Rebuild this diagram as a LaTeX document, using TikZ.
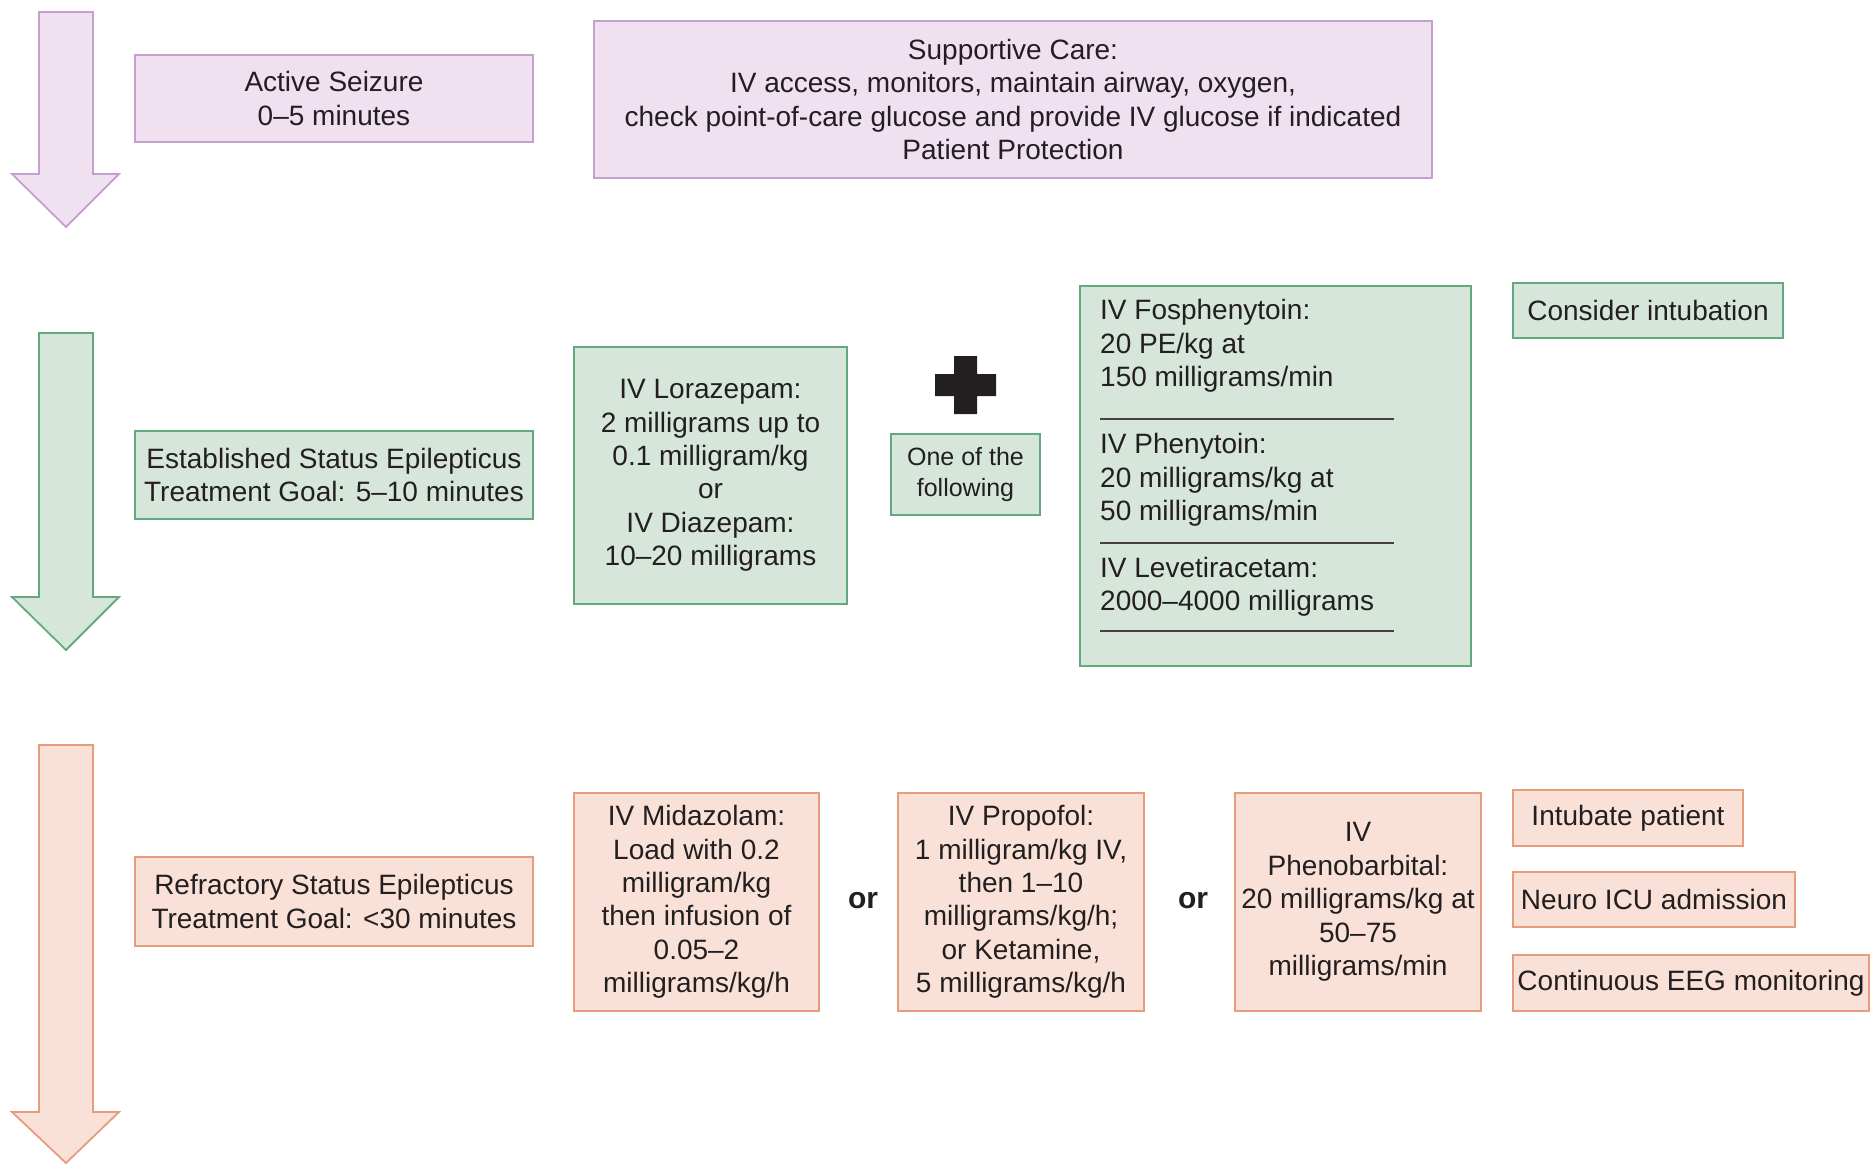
\documentclass[tikz,border=0pt]{standalone}
\usepackage{fontspec}
\setmainfont{Liberation Sans}
\definecolor{pfill}{HTML}{F0E1F0}
\definecolor{pdraw}{HTML}{C6A0CC}
\definecolor{gfill}{HTML}{D6E6DB}
\definecolor{gdraw}{HTML}{62AA7D}
\definecolor{ofill}{HTML}{FAE1D7}
\definecolor{odraw}{HTML}{E59D7E}
\definecolor{txt}{HTML}{231F20}
\tikzset{
  basefont/.style={font=\fontsize{28}{33.4}\selectfont, text=txt},
  box/.style={basefont, draw, line width=1.8pt, inner sep=0pt, align=center},
  pbox/.style={box, fill=pfill, draw=pdraw},
  gbox/.style={box, fill=gfill, draw=gdraw},
  obox/.style={box, fill=ofill, draw=odraw},
  bigarrow/.style={line width=1.8pt},
  sepline/.style={line width=1.4pt, draw=txt!85},
  ortext/.style={font=\fontsize{30}{34}\selectfont\bfseries, text=txt},
  ltext/.style={basefont, align=left, anchor=west, inner sep=0pt}
}
\begin{document}
\begin{tikzpicture}[x=1pt,y=-1pt]
\useasboundingbox (0,0) rectangle (1871,1166);
% big arrows
\filldraw[bigarrow, fill=pfill, draw=pdraw] (39,12) -- (93,12) -- (93,174) -- (119,174) -- (66,227) -- (12,174) -- (39,174) -- cycle;
\filldraw[bigarrow, fill=gfill, draw=gdraw] (39,333) -- (93,333) -- (93,597) -- (119,597) -- (66,650) -- (12,597) -- (39,597) -- cycle;
\filldraw[bigarrow, fill=ofill, draw=odraw] (39,745) -- (93,745) -- (93,1112) -- (119,1112) -- (66,1163) -- (12,1112) -- (39,1112) -- cycle;
% row 1
\node[pbox, minimum width=398pt, minimum height=87pt] (act) at (334,98.5) {Active Seizure\\0--5 minutes};
\node[pbox, minimum width=838pt, minimum height=157pt] (sup) at (1013,99.5) {Supportive Care:\\IV access, monitors, maintain airway, oxygen,\\check point-of-care glucose and provide IV glucose if indicated\\Patient Protection};
% row 2
\node[gbox, minimum width=398pt, minimum height=88pt] (est) at (334,475) {Established Status Epilepticus\\Treatment Goal: 5--10 minutes};
\node[gbox, minimum width=273pt, minimum height=257pt] (lor) at (710.5,475.5) {IV Lorazepam:\\2 milligrams up to\\0.1 milligram/kg\\or\\IV Diazepam:\\10--20 milligrams};
\fill[txt] (954,356) -- (977,356) -- (977,374) -- (996,374) -- (996,396) -- (977,396) -- (977,414) -- (954,414) -- (954,396) -- (935,396) -- (935,374) -- (954,374) -- cycle;
\node[gbox, minimum width=149pt, minimum height=81pt, font=\fontsize{25}{31}\selectfont] (one) at (965.5,474.5) {One of the\\following};
\node[gbox, minimum width=391pt, minimum height=380pt] (fos) at (1275.5,476) {};
\node[ltext] (fos1) at (1100,346) {IV Fosphenytoin:\\20 PE/kg at\\150 milligrams/min};
\node[ltext] (fos2) at (1100,480) {IV Phenytoin:\\20 milligrams/kg at\\50 milligrams/min};
\node[ltext] (fos3) at (1100,586.5) {IV Levetiracetam:\\2000--4000 milligrams};
\draw[sepline] (1100,419) -- (1394,419);
\draw[sepline] (1100,543) -- (1394,543);
\draw[sepline] (1100,631) -- (1394,631);
\node[gbox, minimum width=270pt, minimum height=55pt] (cons) at (1648,310.5) {Consider intubation};
% row 3
\node[obox, minimum width=398pt, minimum height=89pt] (ref) at (334,901.5) {Refractory Status Epilepticus\\Treatment Goal: <30 minutes};
\node[obox, minimum width=245pt, minimum height=218pt] (mid) at (696.5,902) {IV Midazolam:\\Load with 0.2\\milligram/kg\\then infusion of\\0.05--2\\milligrams/kg/h};
\node[ortext] (or1) at (863,901) {or};
\node[obox, minimum width=246pt, minimum height=218pt] (pro) at (1021,902) {IV Propofol:\\1 milligram/kg IV,\\then 1--10\\milligrams/kg/h;\\or Ketamine,\\5 milligrams/kg/h};
\node[ortext] (or2) at (1193,901) {or};
\node[obox, minimum width=246pt, minimum height=218pt] (phe) at (1358,902) {IV\\Phenobarbital:\\20 milligrams/kg at\\50--75\\milligrams/min};
\node[obox, minimum width=230pt, minimum height=56pt] (int) at (1628,818) {Intubate patient};
\node[obox, minimum width=282pt, minimum height=55pt] (neu) at (1654,899.5) {Neuro ICU admission};
\node[obox, minimum width=356pt, minimum height=56pt] (eeg) at (1691,983) {Continuous EEG monitoring};
\end{tikzpicture}
\end{document}
